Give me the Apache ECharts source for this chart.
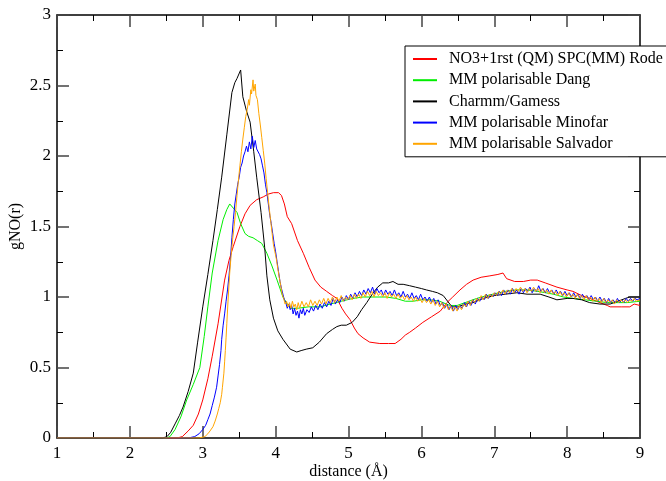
<!DOCTYPE html>
<html>
<head>
<meta charset="utf-8">
<script src="https://cdn.jsdelivr.net/npm/echarts@6/dist/echarts.min.js"></script>
<style>html,body{margin:0;padding:0;background:#fff;}#c{width:666px;height:481px;}</style>
</head>
<body>
<div id="c"></div>
<script>
const seriesNames = ["NO3+1rst (QM) SPC(MM) Rode","MM polarisable Dang","Charmm/Gamess","MM polarisable Minofar","MM polarisable Salvador"];
const xTicks = [1,2,3,4,5,6,7,8,9];
const yTicks = [0,0.5,1,1.5,2,2.5,3];

const red = [[1,0],[2.65,0],[2.72,0.01],[2.80,0.05],[2.87,0.09],[2.94,0.17],[3.00,0.27],[3.07,0.42],[3.13,0.58],[3.21,0.81],[3.30,1.12],[3.36,1.26],[3.42,1.36],[3.51,1.50],[3.58,1.59],[3.65,1.65],[3.74,1.69],[3.83,1.71],[3.90,1.73],[3.97,1.74],[4.04,1.74],[4.08,1.72],[4.12,1.66],[4.16,1.57],[4.22,1.52],[4.30,1.40],[4.38,1.31],[4.46,1.21],[4.54,1.12],[4.62,1.07],[4.70,1.04],[4.78,1.01],[4.84,0.99],[4.91,0.92],[4.96,0.88],[5.02,0.84],[5.08,0.78],[5.13,0.74],[5.20,0.71],[5.29,0.68],[5.43,0.67],[5.55,0.67],[5.64,0.67],[5.72,0.70],[5.78,0.73],[5.84,0.75],[5.92,0.78],[6.02,0.82],[6.14,0.86],[6.26,0.90],[6.35,0.96],[6.43,1.00],[6.53,1.05],[6.62,1.09],[6.71,1.12],[6.82,1.14],[6.94,1.15],[7.05,1.16],[7.12,1.17],[7.17,1.13],[7.28,1.11],[7.40,1.11],[7.50,1.12],[7.59,1.12],[7.70,1.10],[7.86,1.07],[8.00,1.05],[8.08,1.04],[8.20,1.01],[8.31,0.99],[8.45,0.96],[8.55,0.94],[8.59,0.93],[8.75,0.93],[8.86,0.93],[8.92,0.95],[9.00,0.94]];

const green = [[1,0],[2.50,0],[2.55,0.01],[2.62,0.06],[2.70,0.15],[2.78,0.27],[2.87,0.38],[2.96,0.50],[3.02,0.72],[3.07,0.93],[3.13,1.17],[3.21,1.40],[3.28,1.55],[3.33,1.62],[3.37,1.66],[3.42,1.63],[3.47,1.60],[3.52,1.52],[3.58,1.45],[3.63,1.43],[3.69,1.42],[3.75,1.40],[3.81,1.38],[3.88,1.31],[3.95,1.22],[4.02,1.12],[4.10,1.00],[4.16,0.95],[4.20,0.92],[4.30,0.92],[4.45,0.93],[4.61,0.93],[4.75,0.95],[4.90,0.97],[5.06,0.99],[5.20,1.00],[5.35,1.00],[5.52,1.00],[5.65,0.99],[5.78,0.97],[5.89,0.97],[6.00,0.98],[6.12,0.98],[6.25,0.97],[6.39,0.94],[6.49,0.94],[6.60,0.96],[6.76,0.99],[6.90,1.01],[6.98,1.02],[7.15,1.04],[7.30,1.05],[7.45,1.05],[7.60,1.04],[7.81,1.02],[7.95,1.00],[8.08,0.99],[8.25,0.98],[8.40,0.97],[8.55,0.96],[8.70,0.96],[8.82,0.96],[9.00,0.97]];

const black = [[1,0],[2.45,0],[2.51,0.01],[2.56,0.04],[2.62,0.10],[2.68,0.16],[2.73,0.22],[2.80,0.33],[2.87,0.46],[2.93,0.68],[3.00,0.93],[3.07,1.16],[3.14,1.40],[3.20,1.62],[3.26,1.85],[3.33,2.15],[3.40,2.45],[3.44,2.52],[3.47,2.55],[3.52,2.61],[3.55,2.42],[3.60,2.32],[3.65,2.24],[3.70,2.03],[3.74,1.85],[3.80,1.60],[3.85,1.35],[3.88,1.15],[3.92,0.98],[3.97,0.85],[4.03,0.76],[4.10,0.70],[4.20,0.63],[4.29,0.61],[4.35,0.62],[4.42,0.63],[4.51,0.64],[4.60,0.68],[4.70,0.74],[4.78,0.77],[4.84,0.79],[4.90,0.80],[4.97,0.80],[5.05,0.82],[5.12,0.86],[5.18,0.91],[5.25,0.96],[5.30,1.00],[5.34,1.03],[5.40,1.07],[5.47,1.10],[5.55,1.10],[5.61,1.11],[5.68,1.09],[5.75,1.09],[5.84,1.08],[5.92,1.07],[6.00,1.06],[6.07,1.05],[6.15,1.04],[6.22,1.03],[6.30,1.01],[6.36,0.97],[6.42,0.93],[6.50,0.93],[6.60,0.95],[6.71,0.96],[6.85,0.99],[7.00,1.01],[7.15,1.02],[7.31,1.03],[7.45,1.02],[7.63,1.02],[7.75,1.00],[7.86,0.98],[8.00,0.99],[8.08,0.99],[8.20,0.98],[8.31,0.96],[8.45,0.95],[8.59,0.95],[8.70,0.97],[8.80,0.99],[8.86,1.00],[9.00,1.00]];

const blue = [[1,0],[2.80,0],[2.89,0.01],[2.95,0.03],[3.00,0.06],[3.04,0.09],[3.07,0.13],[3.10,0.17],[3.13,0.23],[3.16,0.29],[3.19,0.36],[3.21,0.44],[3.23,0.52],[3.25,0.62],[3.26,0.70],[3.28,0.80],[3.30,0.88],[3.32,0.97],[3.34,1.05],[3.36,1.15],[3.38,1.27],[3.40,1.42],[3.42,1.55],[3.44,1.66],[3.46,1.73],[3.48,1.80],[3.50,1.85],[3.52,1.92],[3.54,1.95],[3.56,2.00],[3.58,2.03],[3.60,2.07],[3.62,2.03],[3.64,2.10],[3.66,2.05],[3.68,2.14],[3.70,2.06],[3.72,2.11],[3.74,2.05],[3.76,2.06],[3.78,2.01],[3.80,1.98],[3.82,1.93],[3.84,1.88],[3.86,1.80],[3.88,1.74],[3.90,1.66],[3.92,1.58],[3.94,1.52],[3.96,1.45],[3.98,1.38],[4.00,1.32],[4.02,1.25],[4.04,1.18],[4.06,1.11],[4.08,1.06],[4.10,1.02],[4.12,0.98],[4.14,0.96],[4.16,0.92],[4.18,0.95],[4.20,0.91],[4.22,0.94],[4.24,0.88],[4.26,0.92],[4.28,0.87],[4.30,0.90],[4.32,0.85],[4.34,0.91],[4.36,0.88],[4.38,0.92],[4.40,0.87],[4.43,0.91],[4.46,0.89],[4.49,0.93],[4.52,0.90],[4.55,0.94],[4.58,0.91],[4.61,0.95],[4.64,0.92],[4.67,0.96],[4.70,0.93],[4.73,0.97],[4.76,0.94],[4.79,0.99],[4.82,0.95],[4.85,0.98],[4.88,0.96],[4.91,1.00],[4.94,0.97],[4.97,1.01],[5.00,0.98],[5.03,1.02],[5.06,0.99],[5.09,1.03],[5.12,1.00],[5.15,1.04],[5.18,1.01],[5.21,1.05],[5.24,1.02],[5.27,1.06],[5.30,1.03],[5.33,1.07],[5.36,1.02],[5.39,1.06],[5.42,1.03],[5.45,1.05],[5.48,1.01],[5.51,1.05],[5.54,1.02],[5.57,1.04],[5.60,1.01],[5.63,1.05],[5.66,1.01],[5.69,1.03],[5.72,1.00],[5.75,1.04],[5.78,1.00],[5.81,1.02],[5.84,0.99],[5.87,1.03],[5.90,0.99],[5.93,1.01],[5.96,0.98],[5.99,1.02],[6.02,0.98],[6.05,1.00],[6.08,0.97],[6.11,1.00],[6.14,0.96],[6.17,0.99],[6.20,0.95],[6.23,0.98],[6.26,0.94],[6.29,0.96],[6.32,0.92],[6.35,0.95],[6.38,0.91],[6.41,0.94],[6.44,0.90],[6.47,0.94],[6.50,0.91],[6.53,0.94],[6.56,0.92],[6.59,0.96],[6.62,0.93],[6.65,0.97],[6.68,0.94],[6.71,0.98],[6.74,0.95],[6.77,0.99],[6.80,0.97],[6.83,1.00],[6.86,0.98],[6.89,1.02],[6.92,0.99],[6.95,1.02],[6.98,1.00],[7.01,1.03],[7.04,1.01],[7.07,1.04],[7.10,1.01],[7.13,1.05],[7.16,1.02],[7.19,1.05],[7.22,1.02],[7.25,1.06],[7.28,1.03],[7.31,1.05],[7.34,1.02],[7.37,1.06],[7.40,1.03],[7.43,1.06],[7.46,1.04],[7.49,1.07],[7.52,1.03],[7.55,1.06],[7.58,1.04],[7.61,1.08],[7.64,1.04],[7.67,1.06],[7.70,1.03],[7.73,1.06],[7.76,1.03],[7.79,1.05],[7.82,1.02],[7.85,1.05],[7.88,1.02],[7.91,1.04],[7.94,1.01],[7.97,1.04],[8.00,1.01],[8.03,1.03],[8.06,1.00],[8.09,1.03],[8.12,1.00],[8.15,1.02],[8.18,0.99],[8.21,1.02],[8.24,0.99],[8.27,1.01],[8.30,0.98],[8.33,1.01],[8.36,0.98],[8.39,1.00],[8.42,0.97],[8.45,1.00],[8.48,0.97],[8.51,0.99],[8.54,0.96],[8.57,0.99],[8.60,0.96],[8.63,0.98],[8.66,0.96],[8.69,0.99],[8.72,0.96],[8.75,0.98],[8.78,0.96],[8.81,0.99],[8.84,0.97],[8.87,0.99],[8.90,0.97],[8.93,0.99],[8.96,0.98],[9.00,0.99]];

const orange = [[1,0],[2.95,0],[3.03,0.01],[3.07,0.03],[3.10,0.05],[3.14,0.08],[3.17,0.12],[3.20,0.17],[3.22,0.21],[3.24,0.25],[3.26,0.31],[3.27,0.36],[3.29,0.46],[3.30,0.54],[3.31,0.62],[3.32,0.71],[3.33,0.81],[3.35,1.00],[3.37,1.17],[3.39,1.30],[3.41,1.41],[3.43,1.50],[3.45,1.60],[3.47,1.72],[3.49,1.83],[3.51,1.93],[3.53,2.03],[3.55,2.12],[3.57,2.20],[3.59,2.28],[3.61,2.33],[3.63,2.40],[3.64,2.36],[3.66,2.47],[3.67,2.44],[3.69,2.54],[3.70,2.46],[3.72,2.51],[3.73,2.43],[3.75,2.40],[3.77,2.30],[3.79,2.22],[3.81,2.13],[3.83,2.04],[3.85,1.95],[3.87,1.84],[3.89,1.74],[3.91,1.64],[3.93,1.55],[3.95,1.46],[3.97,1.37],[3.99,1.32],[4.01,1.27],[4.03,1.20],[4.05,1.14],[4.07,1.08],[4.09,1.02],[4.11,0.99],[4.13,0.95],[4.15,0.97],[4.17,0.93],[4.19,0.96],[4.21,0.92],[4.23,0.97],[4.25,0.93],[4.27,0.95],[4.29,0.91],[4.31,0.96],[4.33,0.92],[4.36,0.97],[4.39,0.93],[4.42,0.96],[4.45,0.93],[4.48,0.98],[4.51,0.94],[4.54,0.97],[4.57,0.94],[4.60,0.98],[4.63,0.95],[4.66,0.99],[4.69,0.95],[4.72,0.99],[4.75,0.96],[4.78,1.00],[4.81,0.96],[4.84,1.00],[4.87,0.97],[4.90,1.01],[4.93,0.97],[4.96,1.00],[4.99,0.98],[5.02,1.01],[5.05,0.98],[5.08,1.02],[5.11,0.99],[5.14,1.02],[5.17,0.99],[5.20,1.03],[5.23,1.00],[5.26,1.04],[5.29,1.01],[5.32,1.04],[5.35,1.00],[5.38,1.04],[5.41,1.01],[5.44,1.03],[5.47,1.00],[5.50,1.03],[5.53,0.99],[5.56,1.03],[5.59,1.00],[5.62,1.02],[5.65,0.99],[5.68,1.02],[5.71,0.99],[5.74,1.01],[5.77,0.98],[5.80,1.01],[5.83,0.98],[5.86,1.00],[5.89,0.97],[5.92,1.00],[5.95,0.97],[5.98,0.99],[6.01,0.96],[6.04,0.99],[6.07,0.96],[6.10,0.98],[6.13,0.95],[6.16,0.98],[6.19,0.94],[6.22,0.97],[6.25,0.93],[6.28,0.96],[6.31,0.92],[6.34,0.95],[6.37,0.91],[6.40,0.94],[6.43,0.90],[6.46,0.93],[6.49,0.90],[6.52,0.94],[6.55,0.91],[6.58,0.95],[6.61,0.93],[6.64,0.97],[6.67,0.94],[6.70,0.98],[6.73,0.96],[6.76,0.99],[6.79,0.97],[6.82,1.01],[6.85,0.98],[6.88,1.02],[6.91,0.99],[6.94,1.02],[6.97,1.00],[7.00,1.03],[7.03,1.01],[7.06,1.04],[7.09,1.02],[7.12,1.05],[7.15,1.02],[7.18,1.05],[7.21,1.03],[7.24,1.06],[7.27,1.03],[7.30,1.06],[7.33,1.04],[7.36,1.07],[7.39,1.04],[7.42,1.06],[7.45,1.03],[7.48,1.06],[7.51,1.04],[7.54,1.07],[7.57,1.04],[7.60,1.06],[7.63,1.03],[7.66,1.06],[7.69,1.03],[7.72,1.05],[7.75,1.02],[7.78,1.05],[7.81,1.02],[7.84,1.04],[7.87,1.01],[7.90,1.04],[7.93,1.01],[7.96,1.03],[7.99,1.00],[8.02,1.03],[8.05,1.00],[8.08,1.02],[8.11,0.99],[8.14,1.02],[8.17,0.99],[8.20,1.01],[8.23,0.98],[8.26,1.01],[8.29,0.98],[8.32,1.00],[8.35,0.97],[8.38,1.00],[8.41,0.97],[8.44,0.99],[8.47,0.96],[8.50,0.99],[8.53,0.96],[8.56,0.98],[8.59,0.96],[8.62,0.98],[8.65,0.95],[8.68,0.98],[8.71,0.96],[8.74,0.98],[8.77,0.96],[8.80,0.98],[8.83,0.96],[8.86,0.98],[8.89,0.97],[8.92,0.99],[8.95,0.97],[9.00,0.98]];

const seriesData = [red, green, black, blue, orange];
const colors = ['#ff0000','#00ee00','#000000','#0000ff','#ffa500'];

const FONT = 'Liberation Serif';
function mkX(pos, showLabel) {
  return {
    type: 'value', position: pos, min: xTicks[0], max: xTicks[xTicks.length-1], interval: 1,
    name: showLabel ? 'distance (Å)' : '', nameLocation: 'middle', nameGap: 26, nameMoveOverlap: false,
    nameTextStyle: {fontFamily: FONT, fontSize: 16, color: '#000'},
    axisLine: {show: true, onZero: false, lineStyle: {color: '#000', width: 1.5}},
    axisTick: {show: true, inside: true, length: 12, lineStyle: {color: '#444', width: 1.5}},
    minorTick: {show: true, splitNumber: 2, length: 6, lineStyle: {color: '#000', width: 1}},
    axisLabel: {show: showLabel, fontFamily: FONT, fontSize: 17, color: '#000', margin: 7},
    splitLine: {show: false}
  };
}
function mkY(pos, showLabel) {
  return {
    type: 'value', position: pos, min: yTicks[0], max: yTicks[yTicks.length-1], interval: 0.5,
    name: showLabel ? 'gNO(r)' : '', nameLocation: 'middle', nameGap: 33, nameMoveOverlap: false,
    nameTextStyle: {fontFamily: FONT, fontSize: 16, color: '#000'},
    axisLine: {show: true, onZero: false, lineStyle: {color: '#000', width: 1.5}},
    axisTick: {show: true, inside: true, length: 12, lineStyle: {color: '#444', width: 1.5}},
    minorTick: {show: true, splitNumber: 2, length: 6, lineStyle: {color: '#000', width: 1}},
    axisLabel: {show: showLabel, fontFamily: FONT, fontSize: 17, color: '#000', margin: 6},
    splitLine: {show: false}
  };
}

const chart = echarts.init(document.getElementById('c'), null, {renderer: 'canvas'});
chart.setOption({
  animation: false,
  backgroundColor: '#fff',
  color: colors,
  grid: {left: 57, right: 26, top: 15, bottom: 43, containLabel: false, outerBoundsMode: 'none'},
  xAxis: [mkX('bottom', true), mkX('top', false)],
  yAxis: [mkY('left', true), mkY('right', false)],
  legend: {
    orient: 'vertical', left: 405, top: 46,
    padding: [5, 40, 5, 7],
    itemWidth: 24, itemHeight: 14, itemGap: 5.2,
    itemStyle: {opacity: 0},
    backgroundColor: '#fff', borderColor: '#000', borderWidth: 1, borderRadius: 0,
    textStyle: {fontFamily: FONT, fontSize: 16, color: '#000', lineHeight: 14, padding: [0,0,0,7]},
    data: seriesNames
  },
  series: seriesData.map((d, i) => ({
    name: seriesNames[i], type: 'line', data: d, xAxisIndex: 0, yAxisIndex: 0,
    symbol: 'none', showSymbol: false, smooth: false,
    lineStyle: {width: 1, color: colors[i]}, itemStyle: {color: colors[i]},
    emphasis: {disabled: true}
  }))
});
</script>
</body>
</html>
